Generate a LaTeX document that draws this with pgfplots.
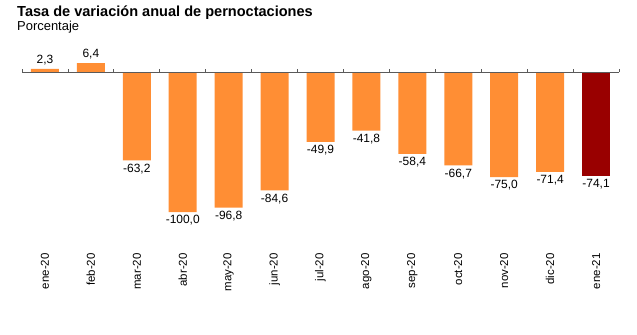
\documentclass[border=0pt]{standalone}
\usepackage{pgfplots}
\pgfplotsset{compat=1.18}
\usepackage{fontspec}
\setmainfont{Liberation Sans}
\definecolor{barorange}{RGB}{255,142,52}
\definecolor{bardark}{RGB}{153,0,0}
\definecolor{axisgray}{RGB}{90,90,90}
\begin{document}
\begin{tikzpicture}[x=1bp,y=1bp]
\path[use as bounding box] (0,0) rectangle (637,-334);
\node[anchor=base west, inner sep=0, font=\bfseries\fontsize{14.6}{16}\selectfont] at (17,-16) {Tasa de variación anual de pernoctaciones};
\node[anchor=base west, inner sep=0, font=\fontsize{13}{15}\selectfont] at (17,-30.5) {Porcentaje};
\begin{axis}[
  at={(22bp,-249.8bp)}, anchor=south west,
  scale only axis, width=597bp, height=198.8bp,
  xmin=-0.5, xmax=12.5, ymin=-127, ymax=15,
  axis line style={draw=none},
  ytick=\empty,
  xtick={0,...,12},
  xticklabels={ene-20,feb-20,mar-20,abr-20,may-20,jun-20,jul-20,ago-20,sep-20,oct-20,nov-20,dic-20,ene-21},
  major tick length=0pt,
  xticklabel style={rotate=90, anchor=east, font=\fontsize{11.5}{13}\selectfont},
  ybar, bar width=28bp, bar shift=0pt,
  nodes near coords,
  nodes near coords align={vertical},
  every node near coord/.append style={font=\fontsize{12}{14}\selectfont, text=black},
  /pgf/number format/.cd, use comma, fixed, fixed zerofill, precision=1, assume math mode=true,
  /pgfplots/.cd,
  clip=false,
]
\addplot[fill=barorange, draw=none] coordinates {
(0,2.3) (1,6.4) (2,-63.2) (3,-100.0) (4,-96.8) (5,-84.6) (6,-49.9) (7,-41.8) (8,-58.4) (9,-66.7) (10,-75.0) (11,-71.4)};
\addplot[fill=bardark, draw=none] coordinates {(12,-74.1)};
\draw[axisgray, line width=0.9pt] (axis cs:-0.5,0) -- (axis cs:12.5,0);
\pgfplotsinvokeforeach{-0.5,0.5,1.5,2.5,3.5,4.5,5.5,6.5,7.5,8.5,9.5,10.5,11.5,12.5}{
  \draw[axisgray, line width=0.8pt] (axis cs:#1,0) -- (axis cs:#1,2.5);
}
\end{axis}
\end{tikzpicture}
\end{document}
